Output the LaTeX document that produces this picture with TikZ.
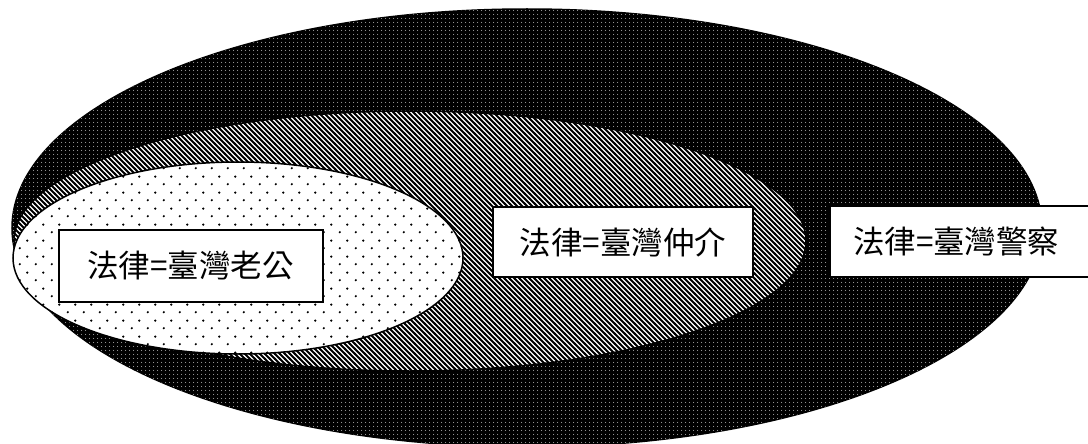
\documentclass[tikz,border=0pt]{standalone}
\usepackage{fontspec}
\newfontfamily\cjk{Noto Sans CJK TC}
\usetikzlibrary{shapes.geometric,patterns}
\pgfdeclarepatternformonly{hatchlines}{\pgfqpoint{-1pt}{-1pt}}{\pgfqpoint{6pt}{6pt}}{\pgfqpoint{5pt}{5pt}}{%
  \pgfsetlinewidth{1.8pt}%
  \pgfpathmoveto{\pgfqpoint{-1pt}{6pt}}\pgfpathlineto{\pgfqpoint{6pt}{-1pt}}%
  \pgfusepath{stroke}}
\pgfdeclarepatternformonly{whitedots}{\pgfqpoint{0pt}{0pt}}{\pgfqpoint{4pt}{4pt}}{\pgfqpoint{4pt}{4pt}}{%
  \pgfpathcircle{\pgfqpoint{2pt}{2pt}}{0.5pt}\pgfusepath{fill}}
\pgfdeclarepatternformonly{staggerdots}{\pgfqpoint{0pt}{0pt}}{\pgfqpoint{16pt}{16pt}}{\pgfqpoint{16pt}{16pt}}{%
  \pgfpathcircle{\pgfqpoint{4pt}{4pt}}{1.3pt}\pgfpathcircle{\pgfqpoint{12pt}{12pt}}{1.3pt}\pgfusepath{fill}}
\begin{document}
\begin{tikzpicture}[x=1pt,y=-1pt,
  region/.style={ellipse, inner sep=0pt, outer sep=0pt, draw=black, line width=1.5pt},
  tagbox/.style={draw=black, line width=2pt, fill=white, inner sep=0pt,
    font={\cjk\fontsize{31.5pt}{32pt}\selectfont}}]
\useasboundingbox (0,0) rectangle (1088,444);
\fill[white] (0,0) rectangle (1088,444);
\node[region, fill=black, postaction={pattern=whitedots, pattern color=white},
  minimum width=1030pt, minimum height=438pt] (outer) at (527,228) {};
\node[region, fill=white, postaction={pattern=hatchlines, pattern color=black},
  minimum width=792pt, minimum height=260pt] (middle) at (410,241) {};
\node[region, fill=white, postaction={pattern=staggerdots, pattern color=black},
  minimum width=450pt, minimum height=192pt] (inner) at (238,258) {};
\node[tagbox, minimum width=264pt, minimum height=72pt] (t1) at (190.5,266) {法律=臺灣老公};
\node[tagbox, minimum width=260pt, minimum height=70pt] (t2) at (623,242) {法律=臺灣仲介};
\node[tagbox, anchor=west, minimum height=71pt, text width=250pt, align=left, inner xsep=23pt] (t3) at (829,241.5) {法律=臺灣警察};
\end{tikzpicture}
\end{document}
